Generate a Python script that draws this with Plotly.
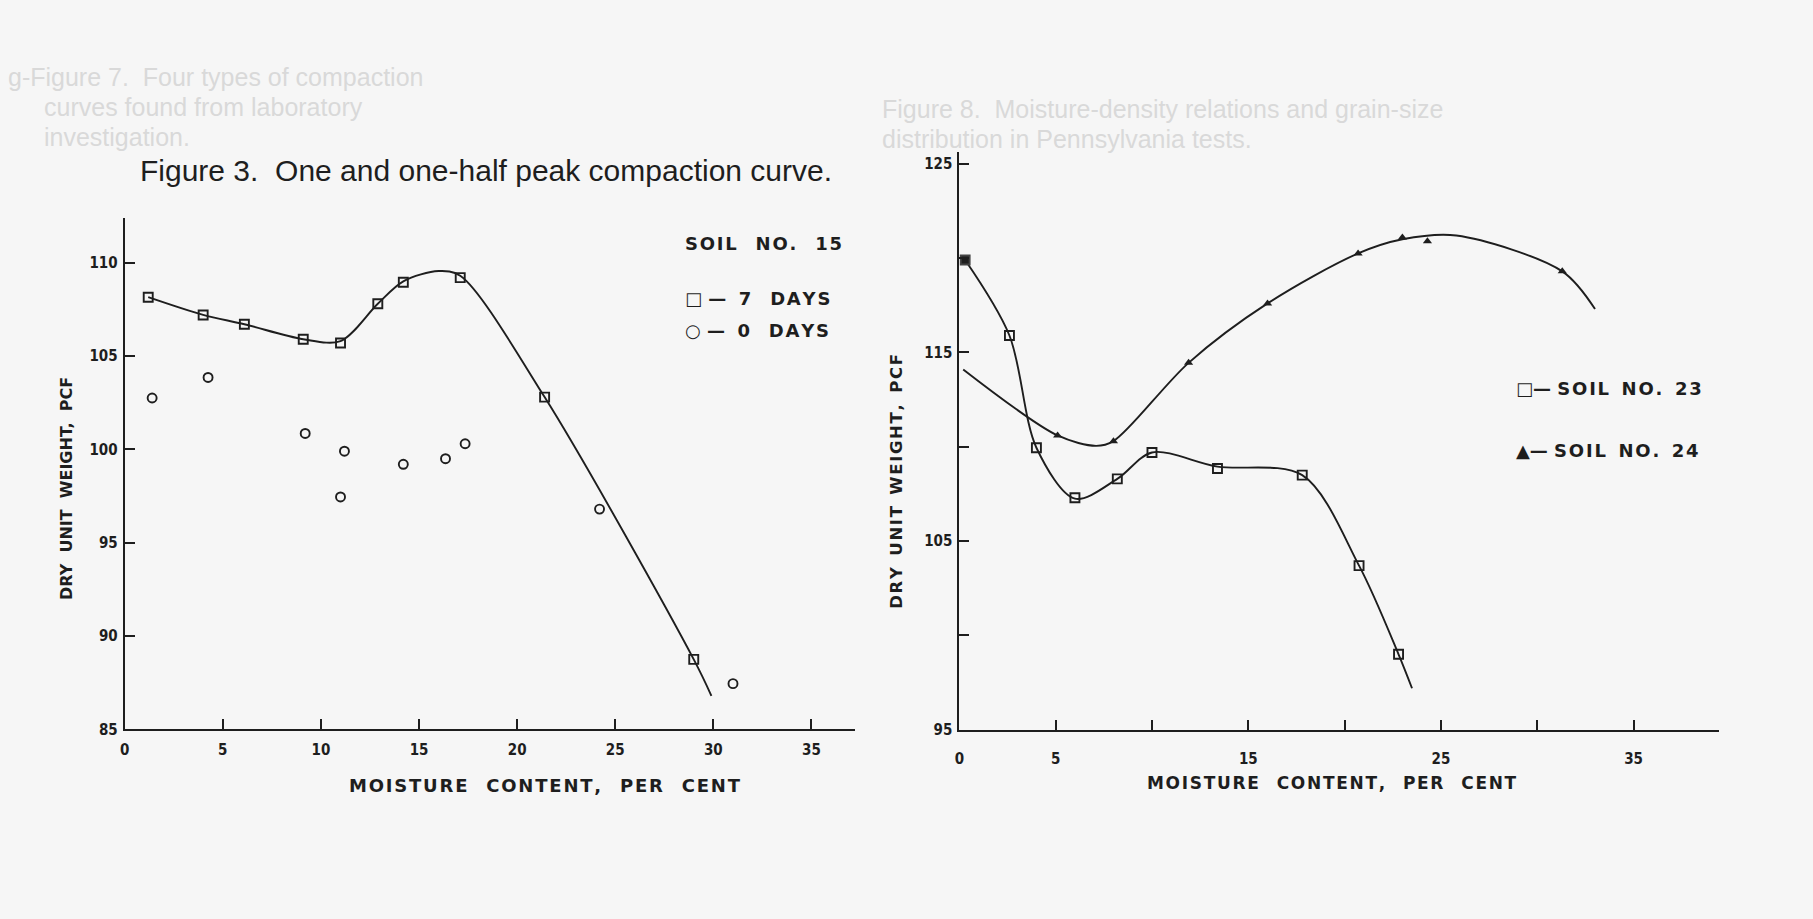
import plotly.graph_objects as go

# ---------------- data ----------------
# Left chart: Soil No. 15
s15_7d_x = [1.2, 4.0, 6.1, 9.1, 11.0, 12.9, 14.2, 17.1, 21.4, 29.0]
s15_7d_y = [108.15, 107.2, 106.7, 105.9, 105.7, 107.8, 108.95, 109.2, 102.8, 88.75]
s15_curve_x = [1.2, 4.0, 6.1, 9.1, 11.0, 12.9, 14.2, 16.0, 17.1, 21.4, 29.0, 29.9]
s15_curve_y = [108.15, 107.2, 106.7, 105.9, 105.8, 107.8, 109.0, 109.55, 109.3, 102.8, 88.75, 86.8]
s15_0d_x = [1.4, 4.25, 9.2, 11.2, 11.0, 14.2, 16.35, 17.35, 24.2, 31.0]
s15_0d_y = [102.75, 103.85, 100.85, 99.9, 97.45, 99.2, 99.5, 100.3, 96.8, 87.45]

# Right chart: Soil No. 23 and 24
s23_x = [0.3, 2.6, 4.0, 6.0, 8.2, 10.0, 13.4, 17.8, 20.75, 22.8]
s23_y = [119.9, 115.9, 109.95, 107.3, 108.3, 109.7, 108.85, 108.5, 103.7, 99.0]
s23_curve_x = [0.3, 2.6, 4.0, 6.0, 8.2, 10.0, 13.4, 17.8, 20.75, 22.8, 23.5]
s23_curve_y = [119.9, 115.9, 109.95, 107.25, 108.3, 109.7, 108.95, 108.5, 103.7, 99.0, 97.2]
s24_x = [5.1, 8.0, 11.9, 16.0, 20.7, 23.0, 24.3, 31.3]
s24_y = [110.6, 110.3, 114.45, 117.6, 120.25, 121.1, 120.9, 119.3]
s24_curve_x = [0.2, 5.1, 7.1, 8.0, 11.9, 16.0, 20.7, 23.0, 25.8, 31.3, 33.0]
s24_curve_y = [114.1, 110.6, 110.05, 110.3, 114.45, 117.6, 120.25, 121.0, 121.2, 119.3, 117.3]

# tick labels
left_xticks = [0, 5, 10, 15, 20, 25, 30, 35]
left_yticks = [85, 90, 95, 100, 105, 110]
right_xticks = [0, 5, 10, 15, 20, 25, 30, 35]
right_xlabels = ["0", "5", "", "15", "", "25", "", "35"]
right_yticks = [95, 100, 105, 110, 115, 120, 125]
right_ylabels = ["95", "", "105", "", "115", "", "125"]

# ---------------- styling ----------------
INK = "#1e1e1e"
PAPER = "#f6f6f6"
TICKFONT = dict(family="DejaVu Sans Condensed, DejaVu Sans", size=15, color=INK, weight="bold")
NB = "\u00a0"
HAIR = "\u200a"

W, H = 1813, 919
def px(x):
    return x / W
def py(y):
    return 1 - y / H

def spaced(words, gap=4, letter=True):
    sep = HAIR if letter else ""
    return (NB * gap).join(sep.join(w) for w in words)

fig = go.Figure()

LINE = dict(color=INK, width=1.9, shape="spline", smoothing=0.9)
SQ = dict(symbol="square-open", size=9, color=INK, line=dict(width=1.9))

# left chart
fig.add_trace(go.Scatter(x=s15_curve_x, y=s15_curve_y, mode="lines", line=LINE,
                         xaxis="x", yaxis="y", hoverinfo="skip"))
fig.add_trace(go.Scatter(x=s15_7d_x, y=s15_7d_y, mode="markers", marker=SQ,
                         xaxis="x", yaxis="y"))
fig.add_trace(go.Scatter(x=s15_0d_x, y=s15_0d_y, mode="markers",
                         marker=dict(symbol="circle-open", size=9, color=INK, line=dict(width=1.9)),
                         xaxis="x", yaxis="y"))
# right chart
fig.add_trace(go.Scatter(x=s23_curve_x, y=s23_curve_y, mode="lines", line=LINE,
                         xaxis="x2", yaxis="y2", hoverinfo="skip"))
fig.add_trace(go.Scatter(x=s24_curve_x, y=s24_curve_y, mode="lines", line=LINE,
                         xaxis="x2", yaxis="y2", hoverinfo="skip"))
s23_symbols = ["square"] + ["square-open"] * (len(s23_x) - 1)
fig.add_trace(go.Scatter(x=s23_x, y=s23_y, mode="markers",
                         marker=dict(symbol=s23_symbols, size=9, color=INK, line=dict(width=1.9)),
                         xaxis="x2", yaxis="y2"))
fig.add_trace(go.Scatter(x=s24_x, y=s24_y, mode="markers",
                         marker=dict(symbol="triangle-up", size=8, color=INK),
                         xaxis="x2", yaxis="y2"))

axis_common = dict(showgrid=False, zeroline=False, showline=True, linecolor=INK, linewidth=2,
                   ticks="inside", ticklen=10, tickwidth=1.8, tickcolor=INK, tickfont=TICKFONT)

fig.update_layout(
    width=W, height=H, margin=dict(l=0, r=0, t=0, b=0),
    paper_bgcolor=PAPER, plot_bgcolor="rgba(0,0,0,0)", showlegend=False,
    xaxis=dict(domain=[px(120), px(852)], range=[0, 37.2], anchor="y",
               tickvals=left_xticks, ticktext=[str(v) for v in left_xticks],
               ticklabelstandoff=6, **axis_common),
    yaxis=dict(domain=[py(736.6), py(220)], range=[85, 112.4], anchor="x",
               tickvals=left_yticks, ticktext=[str(v) for v in left_yticks],
               ticklabelstandoff=2, **axis_common),
    xaxis2=dict(domain=[px(957), px(1719)], range=[0, 39.45], anchor="y2",
                tickvals=right_xticks, ticktext=right_xlabels,
                ticklabelstandoff=14, **axis_common),
    yaxis2=dict(domain=[py(737), py(154)], range=[95, 125.6], anchor="x2",
                tickvals=right_yticks, ticktext=right_ylabels,
                ticklabelstandoff=2, **axis_common),
)

ann = []
def text(x, y, s, font, angle=0, xanchor="left", yanchor="middle", pad=1):
    ann.append(dict(x=px(x), y=py(y), xref="paper", yref="paper", text=s, showarrow=False,
                    font=font, textangle=angle, xanchor=xanchor, yanchor=yanchor, borderpad=pad))

# faint bleed-through text from the reverse page
GHOST = dict(family="Liberation Sans, Arial, sans-serif", size=25, color="#d9d9d9")
text(2, 78, "g-Figure 7.  Four types of compaction", GHOST, pad=0)
text(38, 108, "curves found from laboratory", GHOST, pad=0)
text(38, 138, "investigation.", GHOST, pad=0)
text(878, 110, "Figure 8.  Moisture-density relations and grain-size", GHOST, pad=0)
text(878, 140, "distribution in Pennsylvania tests.", GHOST, pad=0)

# title
text(134, 172, "Figure 3.  One and one-half peak compaction curve.",
     dict(family="Liberation Sans, Arial, sans-serif", size=30, color=INK), pad=0)

# axis titles
YT = dict(family="DejaVu Sans, sans-serif", size=16, color=INK, weight="bold")
XT = dict(family="DejaVu Sans, sans-serif", size=18, color=INK, weight="bold")
text(61, 493, spaced(["DRY", "UNIT", "WEIGHT,", "PCF"], gap=2, letter=False), YT,
     angle=-90, xanchor="center")
text(894, 486, spaced(["DRY", "UNIT", "WEIGHT,", "PCF"], gap=2, letter=True),
     dict(YT, size=16.5), angle=-90, xanchor="center")
text(541, 793, spaced(["MOISTURE", "CONTENT,", "PER", "CENT"], gap=3), XT, xanchor="center")
text(1331, 791, spaced(["MOISTURE", "CONTENT,", "PER", "CENT"], gap=3), dict(XT, size=17),
     xanchor="center")

# legends
LEGF = dict(family="DejaVu Sans, sans-serif", size=18, color=INK, weight="bold")
text(680, 246, spaced(["SOIL", "NO.", "15"], gap=3), LEGF)
text(680, 301, "\u25a1" + NB + "\u2014" + NB * 2 + "7" + NB * 3 + spaced(["DAYS"]), LEGF)
text(680, 334, "\u25cb" + NB + "\u2014" + NB * 2 + "0" + NB * 3 + spaced(["DAYS"]), LEGF)
text(1513, 392, "\u25a1\u2014" + NB + spaced(["SOIL", "NO.", "23"], gap=2), LEGF)
text(1513, 455, "\u25b2\u2014" + NB + spaced(["SOIL", "NO.", "24"], gap=2), LEGF)

fig.update_layout(annotations=ann)
fig.write_html("out.html")
